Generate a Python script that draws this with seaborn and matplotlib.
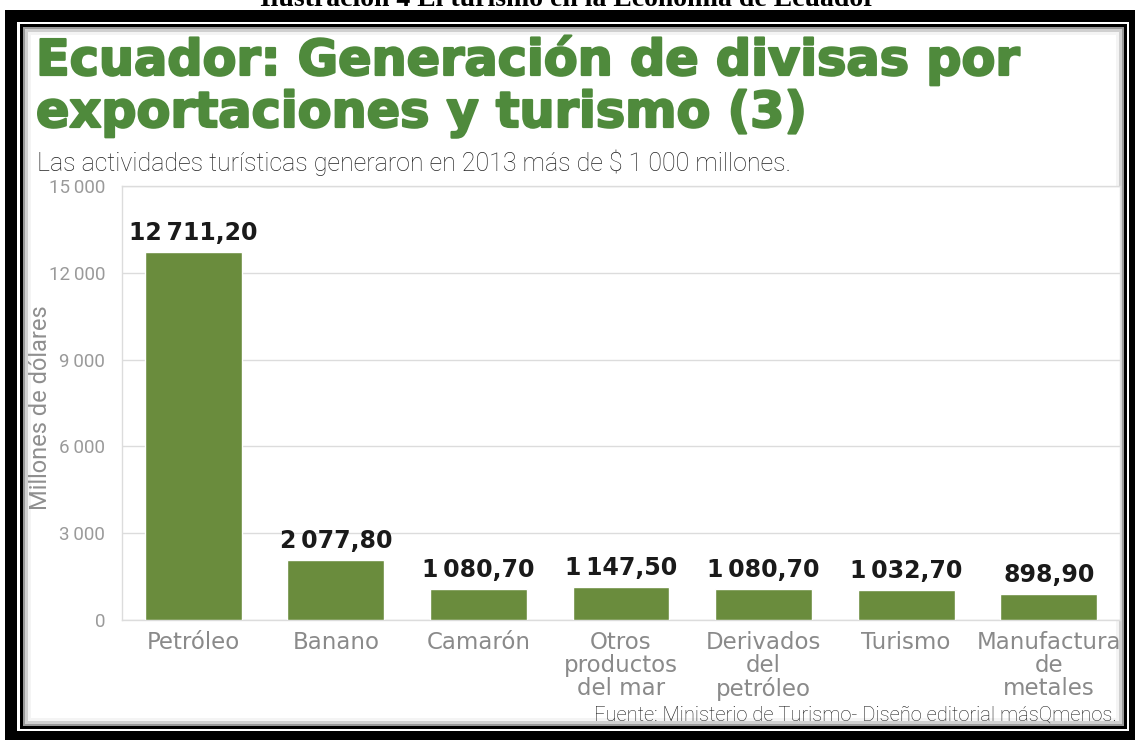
import matplotlib
matplotlib.use("Agg")
import matplotlib.pyplot as plt
from matplotlib.patches import Rectangle
import matplotlib.patheffects as pe
import seaborn as sns
import pandas as pd

categories = ["Petróleo", "Banano", "Camarón", "Otros\nproductos\ndel mar",
              "Derivados\ndel\npetróleo", "Turismo", "Manufactura\nde\nmetales"]
values = [12711.20, 2077.80, 1080.70, 1147.50, 1080.70, 1032.70, 898.90]
yticks = [0, 3000, 6000, 9000, 12000, 15000]
ytick_labels = ["0", "3\u2009000", "6\u2009000", "9\u2009000", "12\u2009000", "15\u2009000"]

W, H = 1135, 740
sns.set_theme(style="white")
plt.rcParams['font.family'] = ['DejaVu Sans']
LIGHT = ["Roboto", "DejaVu Sans"]

fig = plt.figure(figsize=(W / 100, H / 100), dpi=100)
fig.patch.set_facecolor("white")

def fx(x):
    return x / W

def fy(y):
    return 1 - y / H

def rect(x0, y0, x1, y1, **kw):
    r = Rectangle((fx(x0), fy(y1)), fx(x1) - fx(x0), fy(y0) - fy(y1),
                  transform=fig.transFigure, zorder=-10, **kw)
    fig.add_artist(r)

# frame
rect(5, 10, 1135, 740, facecolor="black", edgecolor="none")
rect(17, 22, 1129, 731, facecolor="white", edgecolor="none")
rect(20, 24, 1127, 729, facecolor="black", edgecolor="none")
rect(23, 27, 1124, 726, facecolor="#9a9a9a", edgecolor="none")
rect(25, 29, 1122, 724, facecolor="#d0d0d0", edgecolor="none")
rect(28, 32, 1119, 721, facecolor="#f4f4f4", edgecolor="none")
rect(31, 35, 1116, 718, facecolor="white", edgecolor="none")

# top caption (cut off as in the source)
fig.text(0.5, fy(6), "Ilustración 4 El turismo en la Economía de Ecuador",
         ha="center", va="baseline", fontsize=20, fontweight="bold",
         family=["Liberation Serif", "DejaVu Serif"], color="black")

green_title = "#4f8a3c"
heavy = [pe.withStroke(linewidth=1.6, foreground=green_title)]
fig.text(fx(36), fy(75), "Ecuador: Generación de divisas por",
         ha="left", va="baseline", fontsize=35.5, fontweight="bold",
         family=["DejaVu Sans"], color=green_title, path_effects=heavy)
fig.text(fx(36), fy(127), "exportaciones y turismo (3)",
         ha="left", va="baseline", fontsize=35.5, fontweight="bold",
         family=["DejaVu Sans"], color=green_title, path_effects=heavy)
fig.text(fx(37), fy(171), "Las actividades turísticas generaron en 2013 más de $ 1 000 millones.",
         ha="left", va="baseline", fontsize=18, fontweight="light",
         family=LIGHT, color="#222222")

ax = fig.add_axes([fx(122), fy(620), fx(1120) - fx(122), fy(186) - fy(620)])
df = pd.DataFrame({"cat": categories, "val": values})
sns.barplot(data=df, x="cat", y="val", color="#6a8c3d", saturation=1,
            width=0.68, ax=ax, zorder=3)
ax.set_ylim(0, 15000)
ax.set_xlim(-0.5, len(categories) - 0.5)
ax.set_yticks(yticks)
ax.set_yticklabels(ytick_labels, family=LIGHT, fontweight="normal",
                   fontsize=13.5, color="#9a9a9a")
ax.tick_params(axis="y", length=0, pad=12)
ax.tick_params(axis="x", length=0, pad=8)
for lab in ax.get_xticklabels():
    lab.set_fontsize(16.5)
    lab.set_color("#8a8a8a")
    lab.set_linespacing(1.0)
    lab.set_ha("center")
ax.grid(axis="y", color="#dcdcdc", linewidth=1, zorder=0)
ax.set_axisbelow(True)
for s in ax.spines.values():
    s.set_color("#dcdcdc")
    s.set_linewidth(1)
ax.set_xlabel("")
ax.set_ylabel("Millones de dólares", family=LIGHT, fontweight="normal",
              fontsize=17, color="#8f8f8f")
ax.yaxis.set_label_coords((52 - 122) / 998, 0.49)

labels = [f"{v:,.2f}".replace(",", "\u2009").replace(".", ",") for v in values]
ax.bar_label(ax.containers[0], labels=labels, padding=5, fontsize=17,
             fontweight="bold", color="#1a1a1a")

fig.text(fx(1117), fy(721), "Fuente: Ministerio de Turismo- Diseño editorial másQmenos.",
         ha="right", va="baseline", fontsize=14.5, fontweight="light",
         family=LIGHT, color="#1e1e1e")

fig.savefig("out.png", dpi=100)
